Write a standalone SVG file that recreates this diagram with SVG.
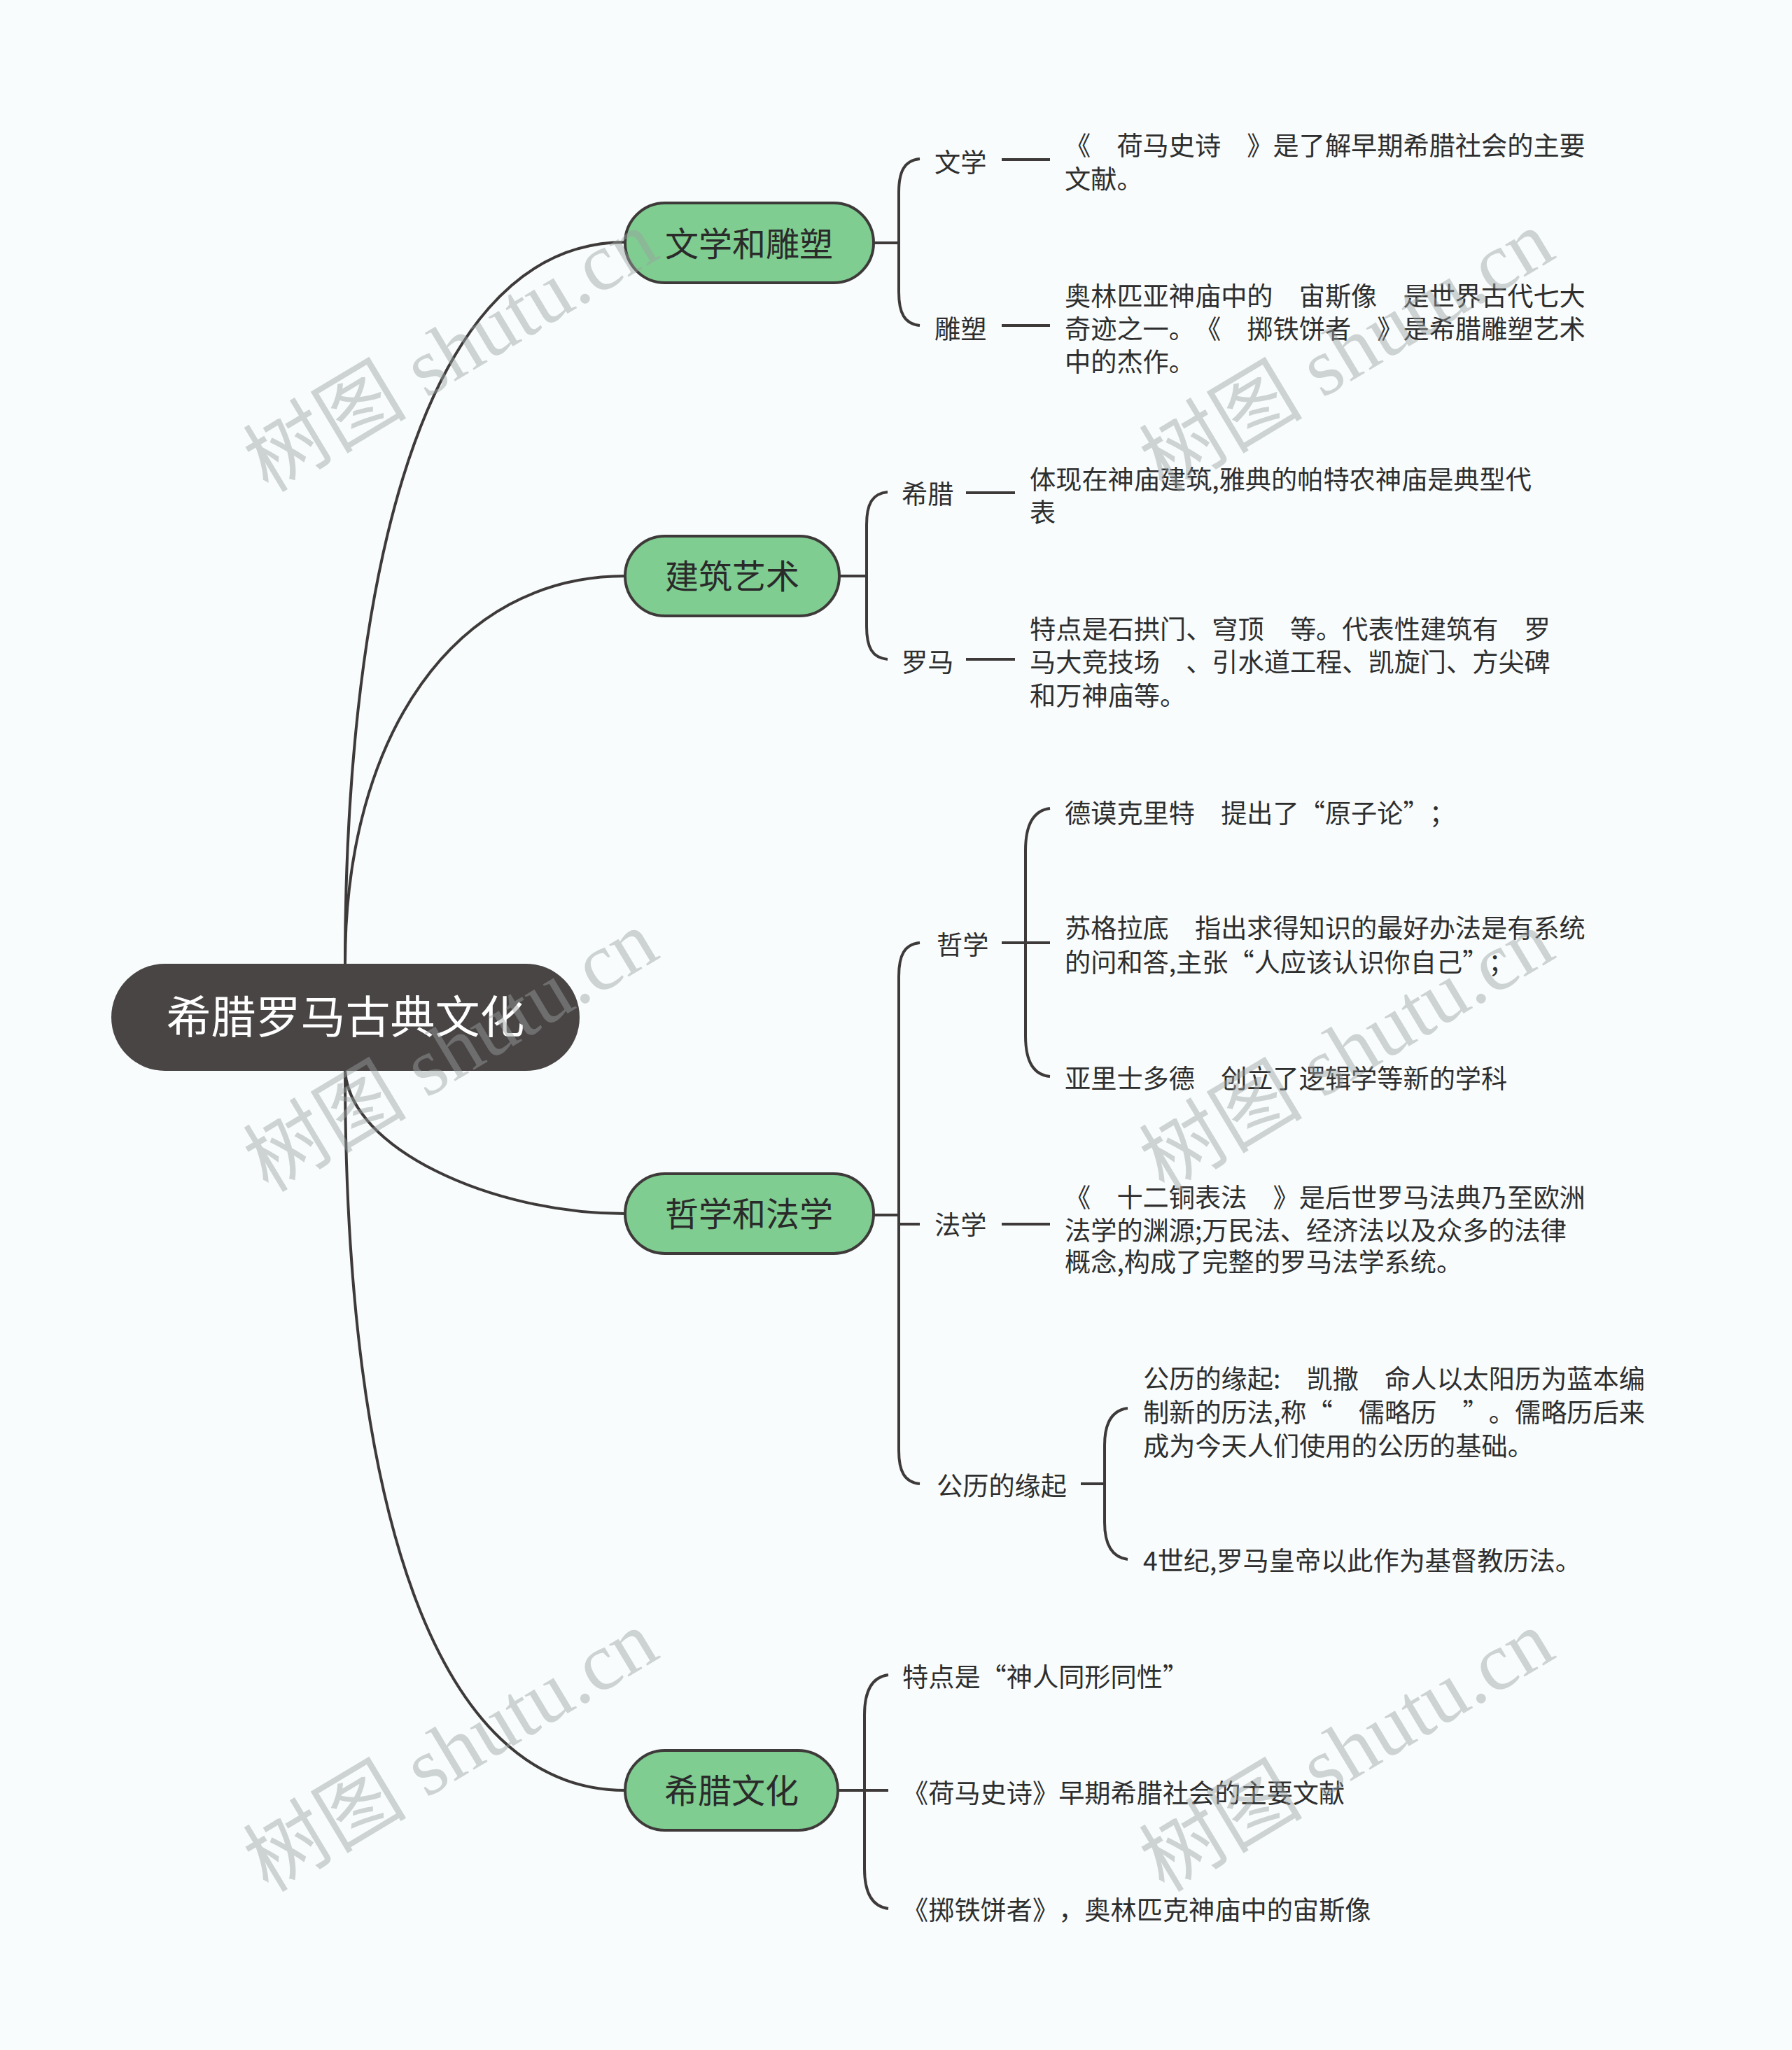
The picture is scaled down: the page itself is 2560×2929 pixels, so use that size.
<svg xmlns="http://www.w3.org/2000/svg" width="2560" height="2929" viewBox="0 0 2560 2929">
<style>
.ln{fill:none;stroke:#3e3a3a;stroke-width:4;stroke-linecap:butt}
.root rect{fill:#4a4545}
.root text{fill:#ffffff;font-family:"Noto Sans CJK SC","Noto Sans",sans-serif;font-size:64px;text-anchor:middle}
.main rect{fill:#7fcd91;stroke:#3e3a3a;stroke-width:4}
.main text{fill:#2a2a2a;font-family:"Noto Sans CJK SC","Noto Sans",sans-serif;font-size:48px;text-anchor:middle}
.t{fill:#2e2e2e;font-family:"Noto Sans CJK SC","Noto Sans",sans-serif;font-size:37.2px;text-spacing-trim:space-all}
.wm{fill:#9aa0a0;opacity:0.45;font-family:"Liberation Serif","Noto Sans CJK SC",serif;font-size:117px}
</style>
<rect x="0" y="0" width="2560" height="2929" fill="#f8fcfd"/>

<g id="connectors">
  <path class="ln" d="M493,1377 C493,900 580,346 893,346"/>
  <path class="ln" d="M493,1377 C493,1050 650,823 893,823"/>
  <path class="ln" d="M493,1530 C500,1640 700,1734 893,1734"/>
  <path class="ln" d="M493,1530 C493,2150 620,2558 893,2558"/>
  <path class="ln" d="M1248,347 L1284,347"/>
  <path class="ln" d="M1314,227 C1292,229 1284,245 1284,275 L1284,417 C1284,447 1292,463 1314,465"/>
  <path class="ln" d="M1431,228 L1500,228"/>
  <path class="ln" d="M1431,465 L1500,465"/>
  <path class="ln" d="M1199,823 L1238,823"/>
  <path class="ln" d="M1268,703 C1246,705 1238,720 1238,750 L1238,895 C1238,925 1246,940 1268,942"/>
  <path class="ln" d="M1380,704 L1450,704"/>
  <path class="ln" d="M1380,942 L1450,942"/>
  <path class="ln" d="M1248,1736 L1284,1736"/>
  <path class="ln" d="M1314,1347 C1292,1349 1284,1365 1284,1395 L1284,2072 C1284,2102 1292,2118 1314,2120"/>
  <path class="ln" d="M1284,1749 L1314,1749"/>
  <path class="ln" d="M1431,1347 L1500,1347"/>
  <path class="ln" d="M1500,1155 C1476,1158 1465,1180 1465,1215 L1465,1480 C1465,1515 1476,1536 1500,1538"/>
  <path class="ln" d="M1431,1749 L1500,1749"/>
  <path class="ln" d="M1544,2120 L1578,2120"/>
  <path class="ln" d="M1611,2012 C1588,2015 1578,2035 1578,2065 L1578,2175 C1578,2205 1588,2225 1611,2228"/>
  <path class="ln" d="M1197,2558 L1269,2558"/>
  <path class="ln" d="M1269,2393 C1246,2396 1235,2415 1235,2450 L1235,2670 C1235,2705 1246,2724 1269,2727"/>
</g>

<g id="root" class="root">
  <rect x="159" y="1377" width="669" height="153" rx="76.5"/>
  <text x="493.5" y="1476">希腊罗马古典文化</text>
</g>

<g id="n-wenxue" class="main">
  <rect x="893" y="290" width="355" height="114" rx="57"/>
  <text x="1070" y="366">文学和雕塑</text>
</g>
<g id="n-jianzhu" class="main">
  <rect x="893" y="766" width="306" height="114" rx="57"/>
  <text x="1046" y="841">建筑艺术</text>
</g>
<g id="n-zhexue" class="main">
  <rect x="893" y="1677" width="355" height="114" rx="57"/>
  <text x="1070" y="1752">哲学和法学</text>
</g>
<g id="n-xila" class="main">
  <rect x="893" y="2501" width="304" height="114" rx="57"/>
  <text x="1045" y="2576">希腊文化</text>
</g>

<g id="l-wenxue"><text class="t" x="1335" y="246">文学</text></g>
<g id="l-diaosu"><text class="t" x="1335" y="484">雕塑</text></g>
<g id="l-xila"><text class="t" x="1288" y="720">希腊</text></g>
<g id="l-luoma"><text class="t" x="1288" y="960">罗马</text></g>
<g id="l-zhexue"><text class="t" x="1338" y="1364">哲学</text></g>
<g id="l-faxue"><text class="t" x="1335" y="1764">法学</text></g>
<g id="l-gongli"><text class="t" x="1338" y="2137">公历的缘起</text></g>

<g id="d-wenxue"><text class="t" x="1521" y="222">《　荷马史诗　》是了解早期希腊社会的主要</text><text class="t" x="1521" y="270">文献。</text></g>
<g id="d-diaosu"><text class="t" x="1521" y="437">奥林匹亚神庙中的　宙斯像　是世界古代七大</text><text class="t" x="1521" y="484">奇迹之一。《　掷铁饼者　》是希腊雕塑艺术</text><text class="t" x="1521" y="531">中的杰作。</text></g>
<g id="d-xila"><text class="t" x="1471" y="699">体现在神庙建筑,雅典的帕特农神庙是典型代</text><text class="t" x="1471" y="746">表</text></g>
<g id="d-luoma"><text class="t" x="1471" y="913">特点是石拱门、穹顶　等。代表性建筑有　罗</text><text class="t" x="1471" y="960">马大竞技场　、引水道工程、凯旋门、方尖碑</text><text class="t" x="1471" y="1008">和万神庙等。</text></g>
<g id="d-demo"><text class="t" x="1521" y="1176">德谟克里特　提出了“原子论”；</text></g>
<g id="d-sugeladi"><text class="t" x="1521" y="1340">苏格拉底　指出求得知识的最好办法是有系统</text><text class="t" x="1521" y="1389">的问和答,主张“人应该认识你自己”；</text></g>
<g id="d-yali"><text class="t" x="1521" y="1555">亚里士多德　创立了逻辑学等新的学科</text></g>
<g id="d-faxue"><text class="t" x="1521" y="1725">《　十二铜表法　》是后世罗马法典乃至欧洲</text><text class="t" x="1521" y="1772">法学的渊源;万民法、经济法以及众多的法律</text><text class="t" x="1521" y="1817">概念,构成了完整的罗马法学系统。</text></g>
<g id="d-gongli1"><text class="t" x="1633" y="1984">公历的缘起:　凯撒　命人以太阳历为蓝本编</text><text class="t" x="1633" y="2032">制新的历法,称“　儒略历　”。儒略历后来</text><text class="t" x="1633" y="2080">成为今天人们使用的公历的基础。</text></g>
<g id="d-gongli2"><text class="t" x="1633" y="2244">4世纪,罗马皇帝以此作为基督教历法。</text></g>
<g id="d-xila1"><text class="t" x="1289" y="2410">特点是“神人同形同性”</text></g>
<g id="d-xila2"><text class="t" x="1289" y="2576">《荷马史诗》早期希腊社会的主要文献</text></g>
<g id="d-xila3"><text class="t" x="1289" y="2743">《掷铁饼者》，奥林匹克神庙中的宙斯像</text></g>

<g id="watermarks">
  <text class="wm" transform="translate(383,705) rotate(-31)">树图 shutu.cn</text>
  <text class="wm" transform="translate(1663,705) rotate(-31)">树图 shutu.cn</text>
  <text class="wm" transform="translate(383,1705) rotate(-31)">树图 shutu.cn</text>
  <text class="wm" transform="translate(1663,1705) rotate(-31)">树图 shutu.cn</text>
  <text class="wm" transform="translate(383,2705) rotate(-31)">树图 shutu.cn</text>
  <text class="wm" transform="translate(1663,2705) rotate(-31)">树图 shutu.cn</text>
</g>
</svg>
